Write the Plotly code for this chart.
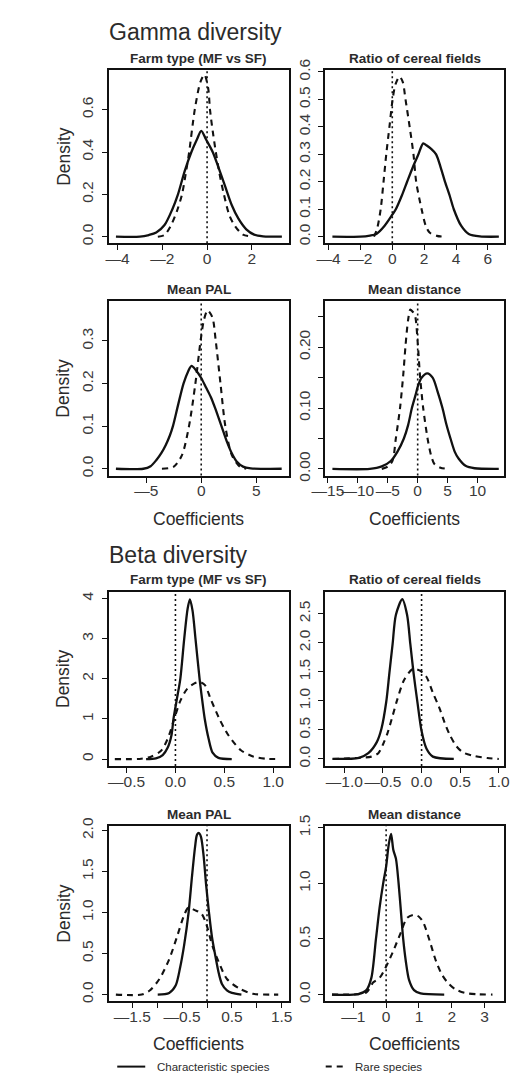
import plotly.graph_objects as go

# ---------------- posterior densities of the coefficients ----------------
# Gamma diversity
g_farm_char_x = [-4.07, -3.0, -2.6, -2.27, -1.9, -1.55, -1.3, -1.0, -0.7, -0.45, -0.26, -0.05, 0.25, 0.5, 0.8, 1.1, 1.4, 1.75, 2.1, 2.5, 3.34]
g_farm_char_y = [0, 0, 0.008, 0.02, 0.055, 0.13, 0.2, 0.31, 0.4, 0.46, 0.50, 0.46, 0.40, 0.33, 0.24, 0.15, 0.085, 0.035, 0.01, 0.002, 0]
g_farm_rare_x = [-2.2, -1.9, -1.63, -1.35, -1.12, -0.95, -0.8, -0.55, -0.3, -0.12, 0.05, 0.13, 0.25, 0.39, 0.55, 0.75, 1.0, 1.25, 1.6, 2.04]
g_farm_rare_y = [0, 0.008, 0.05, 0.12, 0.2, 0.3, 0.4, 0.6, 0.73, 0.766, 0.7, 0.6, 0.5, 0.4, 0.3, 0.2, 0.1, 0.05, 0.01, 0]

g_cereal_char_x = [-3.76, -2.0, -1.4, -1.0, -0.48, 0.0, 0.22, 0.6, 0.93, 1.3, 1.64, 1.94, 2.14, 2.44, 2.75, 3.05, 3.31, 3.6, 3.86, 4.32, 4.8, 5.5, 6.69]
g_cereal_char_y = [0, 0, 0.004, 0.01, 0.04, 0.08, 0.1, 0.15, 0.2, 0.255, 0.3, 0.34, 0.333, 0.32, 0.30, 0.25, 0.2, 0.15, 0.1, 0.04, 0.01, 0.001, 0]
g_cereal_rare_x = [-1.15, -0.95, -0.73, -0.55, -0.38, -0.18, 0.02, 0.2, 0.45, 0.65, 0.83, 1.09, 1.33, 1.5, 1.84, 2.1, 2.34, 2.8, 3.25]
g_cereal_rare_y = [0, 0.03, 0.1, 0.2, 0.3, 0.4, 0.5, 0.555, 0.583, 0.565, 0.5, 0.4, 0.3, 0.2, 0.1, 0.04, 0.015, 0.003, 0]

g_pal_char_x = [-7.75, -5.26, -4.6, -4.09, -3.6, -3.22, -2.85, -2.57, -2.1, -1.61, -1.2, -0.88, -0.5, 0.0, 0.45, 0.88, 1.3, 1.84, 2.34, 2.8, 3.22, 3.8, 4.5, 7.31]
g_pal_char_y = [0, 0, 0.006, 0.02, 0.038, 0.056, 0.078, 0.1, 0.15, 0.2, 0.228, 0.2415, 0.232, 0.213, 0.19, 0.168, 0.14, 0.1, 0.063, 0.035, 0.017, 0.005, 0.001, 0]
g_pal_rare_x = [-3.57, -2.49, -1.75, -1.11, -0.53, -0.06, 0.25, 0.58, 1.02, 1.32, 1.75, 2.19, 2.78, 3.51, 4.09]
g_pal_rare_y = [0, 0.005, 0.032, 0.1, 0.2, 0.3, 0.35, 0.372, 0.355, 0.3, 0.2, 0.1, 0.032, 0.005, 0]

g_dist_char_x = [-14.25, -8.0, -6.0, -4.5, -3.4, -2.31, -1.6, -0.97, -0.4, 0.11, 0.65, 1.6, 2.5, 3.3, 4.14, 4.8, 5.48, 6.2, 6.83, 8.0, 9.5, 13.55]
g_dist_char_y = [0, 0, 0.004, 0.013, 0.028, 0.05, 0.072, 0.1, 0.12, 0.138, 0.15, 0.157, 0.15, 0.128, 0.1, 0.073, 0.05, 0.028, 0.017, 0.005, 0.001, 0]
g_dist_rare_x = [-6.0, -4.95, -4.2, -3.65, -2.95, -2.42, -2.03, -1.6, -1.23, -0.8, -0.42, 0.0, 0.38, 0.92, 1.72, 2.3, 2.8, 3.8, 4.95]
g_dist_rare_y = [0, 0.004, 0.0135, 0.05, 0.1, 0.154, 0.203, 0.245, 0.262, 0.258, 0.251, 0.208, 0.154, 0.1, 0.046, 0.02, 0.008, 0.002, 0]

# Beta diversity
b_farm_char_x = [-0.30, -0.2, -0.13, -0.08, -0.04, -0.02, 0.015, 0.05, 0.09, 0.125, 0.148, 0.175, 0.205, 0.247, 0.275, 0.30, 0.34, 0.38, 0.44, 0.576]
b_farm_char_y = [0, 0.02, 0.1, 0.28, 0.6, 1.0, 1.5, 2.0, 3.0, 3.75, 3.98, 3.7, 3.0, 2.0, 1.45, 1.0, 0.5, 0.16, 0.03, 0]
b_farm_rare_x = [-0.62, -0.35, -0.25, -0.15, -0.08, -0.016, 0.05, 0.12, 0.19, 0.247, 0.3, 0.36, 0.45, 0.54, 0.67, 0.8, 0.92, 1.07]
b_farm_rare_y = [0, 0.01, 0.06, 0.2, 0.5, 0.97, 1.45, 1.75, 1.88, 1.92, 1.85, 1.5, 1.0, 0.6, 0.22, 0.06, 0.01, 0]

b_cereal_char_x = [-1.154, -0.81, -0.69, -0.58, -0.52, -0.458, -0.417, -0.375, -0.333, -0.25, -0.1875, -0.146, -0.104, -0.054, 0.0, 0.0625, 0.146, 0.417]
b_cereal_char_y = [0, 0.02, 0.1, 0.29, 0.52, 0.98, 1.48, 1.98, 2.48, 2.75, 2.48, 1.98, 1.48, 0.98, 0.48, 0.18, 0.04, 0]
b_cereal_rare_x = [-1.15, -0.8, -0.65, -0.56, -0.5, -0.44, -0.38, -0.32, -0.23, -0.125, -0.08, -0.02, 0.06, 0.146, 0.23, 0.3, 0.36, 0.45, 0.54, 0.69, 0.85, 1.0]
b_cereal_rare_y = [0, 0.02, 0.04, 0.1, 0.25, 0.45, 0.72, 1.0, 1.35, 1.54, 1.55, 1.52, 1.42, 1.14, 0.88, 0.62, 0.43, 0.22, 0.11, 0.05, 0.015, 0]

b_pal_char_x = [-0.99, -0.76, -0.63, -0.54, -0.46, -0.37, -0.3, -0.24, -0.2, -0.16, -0.12, -0.07, -0.02, 0.04, 0.1, 0.174, 0.24, 0.3, 0.4, 0.5, 0.69]
b_pal_char_y = [0, 0.02, 0.11, 0.33, 0.6, 1.0, 1.45, 1.8, 1.95, 1.97, 1.92, 1.7, 1.35, 1.0, 0.7, 0.45, 0.25, 0.13, 0.05, 0.02, 0]
b_pal_rare_x = [-1.83, -1.31, -1.15, -0.956, -0.76, -0.6, -0.47, -0.375, -0.245, -0.116, -0.02, 0.11, 0.24, 0.4, 0.66, 0.92, 1.43]
b_pal_rare_y = [0, 0, 0.05, 0.19, 0.43, 0.71, 0.95, 1.06, 1.03, 0.99, 0.87, 0.59, 0.39, 0.19, 0.07, 0.01, 0]

b_dist_char_x = [-1.65, -0.85, -0.6, -0.45, -0.31, -0.2, -0.09, 0.0, 0.08, 0.15, 0.22, 0.3, 0.38, 0.45, 0.52, 0.6, 0.7, 0.85, 1.05, 1.77]
b_dist_char_y = [0, 0.005, 0.04, 0.15, 0.5, 0.78, 1.0, 1.15, 1.35, 1.445, 1.3, 1.22, 1.0, 0.75, 0.5, 0.3, 0.13, 0.04, 0.01, 0]
b_dist_rare_x = [-1.65, -0.9, -0.6, -0.39, -0.2, -0.04, 0.2, 0.45, 0.64, 0.84, 1.0, 1.13, 1.33, 1.52, 1.7, 1.87, 2.1, 2.4, 2.8, 3.24]
b_dist_rare_y = [0, 0.003, 0.02, 0.11, 0.15, 0.23, 0.38, 0.56, 0.69, 0.717, 0.7, 0.65, 0.48, 0.3, 0.18, 0.11, 0.05, 0.015, 0.003, 0]

# ---------------- axis ticks ----------------
D = "\u2014"  # long minus as typeset on the axes
g_farm_xticks = [-4, -2, 0, 2]
g_farm_xlabels = [D + "4", D + "2", "0", "2"]
g_farm_yticks = [0, 0.2, 0.4, 0.6]
g_farm_ylabels = ["0.0", "0.2", "0.4", "0.6"]

g_cereal_xticks = [-4, -2, 0, 2, 4, 6]
g_cereal_xlabels = [D + "4", D + "2", "0", "2", "4", "6"]
g_cereal_yticks = [0, 0.1, 0.2, 0.3, 0.4, 0.5, 0.6]
g_cereal_ylabels = ["0.0", "0.1", "0.2", "0.3", "0.4", "0.5", "0.6"]

g_pal_xticks = [-5, 0, 5]
g_pal_xlabels = [D + "5", "0", "5"]
g_pal_yticks = [0, 0.1, 0.2, 0.3]
g_pal_ylabels = ["0.0", "0.1", "0.2", "0.3"]

g_dist_xticks = [-15, -10, -5, 0, 5, 10]
g_dist_xlabels = [D + "15", D + "10", D + "5", "0", "5", "10"]
g_dist_yticks = [0, 0.05, 0.10, 0.15, 0.20, 0.25]
g_dist_ylabels = ["0.00", "", "0.10", "", "0.20", ""]

b_farm_xticks = [-0.5, 0.0, 0.5, 1.0]
b_farm_xlabels = [D + "0.5", "0.0", "0.5", "1.0"]
b_farm_yticks = [0, 1, 2, 3, 4]
b_farm_ylabels = ["0", "1", "2", "3", "4"]

b_cereal_xticks = [-1.0, -0.5, 0.0, 0.5, 1.0]
b_cereal_xlabels = [D + "1.0", D + "0.5", "0.0", "0.5", "1.0"]
b_cereal_yticks = [0, 0.5, 1.0, 1.5, 2.0, 2.5]
b_cereal_ylabels = ["0.0", "0.5", "1.0", "1.5", "2.0", "2.5"]

b_pal_xticks = [-1.5, -1.0, -0.5, 0.0, 0.5, 1.0, 1.5]
b_pal_xlabels = [D + "1.5", "", D + "0.5", "", "0.5", "", "1.5"]
b_pal_yticks = [0, 0.5, 1.0, 1.5, 2.0]
b_pal_ylabels = ["0.0", "0.5", "1.0", "1.5", "2.0"]

b_dist_xticks = [-1, 0, 1, 2, 3]
b_dist_xlabels = [D + "1", "0", "1", "2", "3"]
b_dist_yticks = [0, 0.5, 1.0, 1.5]
b_dist_ylabels = ["0.0", "0.5", "1.0", "1.5"]

panel_titles = ["Farm type (MF vs SF)", "Ratio of cereal fields", "Mean PAL", "Mean distance"]
section_titles = ["Gamma diversity", "Beta diversity"]
series_names = ["Characteristic species", "Rare species"]

# ---------------- page geometry (pixels) ----------------
W, H = 517, 1079
FONT = "Liberation Sans, Arial, Helvetica, sans-serif"
INK = "#111111"
TXT = "#2b2b2b"


def fx(px):
    return px / W


def fy(py):
    return 1 - py / H


col_px = [(99, 286), (323, 509)]
row_px = [(60, 236), (295, 472), (590, 767), (828, 1006)]

panels = [
    dict(cx=g_farm_char_x, cy=g_farm_char_y, rx=g_farm_rare_x, ry=g_farm_rare_y,
         xt=g_farm_xticks, xl=g_farm_xlabels, yt=g_farm_yticks, yl=g_farm_ylabels,
         xr=[-4.40, 3.66], yr=[-0.031, 0.787]),
    dict(cx=g_cereal_char_x, cy=g_cereal_char_y, rx=g_cereal_rare_x, ry=g_cereal_rare_y,
         xt=g_cereal_xticks, xl=g_cereal_xlabels, yt=g_cereal_yticks, yl=g_cereal_ylabels,
         xr=[-4.24, 7.03], yr=[-0.024, 0.607]),
    dict(cx=g_pal_char_x, cy=g_pal_char_y, rx=g_pal_rare_x, ry=g_pal_rare_y,
         xt=g_pal_xticks, xl=g_pal_xlabels, yt=g_pal_yticks, yl=g_pal_ylabels,
         xr=[-8.42, 7.98], yr=[-0.016, 0.393]),
    dict(cx=g_dist_char_x, cy=g_dist_char_y, rx=g_dist_rare_x, ry=g_dist_rare_y,
         xt=g_dist_xticks, xl=g_dist_xlabels, yt=g_dist_yticks, yl=g_dist_ylabels,
         xr=[-15.53, 14.47], yr=[-0.011, 0.2755]),
    dict(cx=b_farm_char_x, cy=b_farm_char_y, rx=b_farm_rare_x, ry=b_farm_rare_y,
         xt=b_farm_xticks, xl=b_farm_xlabels, yt=b_farm_yticks, yl=b_farm_ylabels,
         xr=[-0.684, 1.162], yr=[-0.17, 4.17]),
    dict(cx=b_cereal_char_x, cy=b_cereal_char_y, rx=b_cereal_rare_x, ry=b_cereal_rare_y,
         xt=b_cereal_xticks, xl=b_cereal_xlabels, yt=b_cereal_yticks, yl=b_cereal_ylabels,
         xr=[-1.254, 1.071], yr=[-0.12, 2.88]),
    dict(cx=b_pal_char_x, cy=b_pal_char_y, rx=b_pal_rare_x, ry=b_pal_rare_y,
         xt=b_pal_xticks, xl=b_pal_xlabels, yt=b_pal_yticks, yl=b_pal_ylabels,
         xr=[-1.977, 1.647], yr=[-0.08, 2.056]),
    dict(cx=b_dist_char_x, cy=b_dist_char_y, rx=b_dist_rare_x, ry=b_dist_rare_y,
         xt=b_dist_xticks, xl=b_dist_xlabels, yt=b_dist_yticks, yl=b_dist_ylabels,
         xr=[-1.87, 3.6], yr=[-0.059, 1.516]),
]

fig = go.Figure()
layout_axes = {}
annotations = []
shapes = []

for i, p in enumerate(panels, start=1):
    row, col = (i - 1) // 2, (i - 1) % 2
    x0p, x1p = col_px[col]
    y0p, y1p = row_px[row]
    xa = "x" if i == 1 else f"x{i}"
    ya = "y" if i == 1 else f"y{i}"

    fig.add_trace(go.Scatter(
        x=p["cx"], y=p["cy"], xaxis=xa, yaxis=ya, mode="lines", name=series_names[0],
        line=dict(color=INK, width=2.3, shape="spline", smoothing=0.8),
        showlegend=False, hoverinfo="skip"))
    fig.add_trace(go.Scatter(
        x=p["rx"], y=p["ry"], xaxis=xa, yaxis=ya, mode="lines", name=series_names[1],
        line=dict(color=INK, width=2.1, dash="6px,5px", shape="spline", smoothing=0.8),
        showlegend=False, hoverinfo="skip"))

    # reference line at zero effect
    shapes.append(dict(type="line", xref=xa, yref=f"{ya} domain", x0=0, x1=0, y0=0, y1=1,
                       line=dict(color=INK, width=1.6, dash="2px,3px"), layer="above"))

    common = dict(showline=True, linecolor=INK, linewidth=2, mirror=True,
                  ticks="outside", ticklen=5, tickwidth=1.4, tickcolor=INK,
                  showgrid=False, zeroline=False, fixedrange=True,
                  tickfont=dict(family=FONT, size=15.5, color="#3a3a3a"))
    layout_axes[f"xaxis{'' if i == 1 else i}"] = dict(
        common, domain=[fx(x0p), fx(x1p)], anchor=ya, range=p["xr"], tickangle=0,
        tickmode="array", tickvals=p["xt"], ticktext=p["xl"], ticklabelstandoff=-5)
    layout_axes[f"yaxis{'' if i == 1 else i}"] = dict(
        common, domain=[fy(y1p), fy(y0p)], anchor=xa, range=p["yr"],
        tickmode="array", tickvals=p["yt"], ticktext=p["yl"], tickangle=-90,
        ticklabelstandoff=2)

    # panel title
    annotations.append(dict(text=f"<b>{panel_titles[(i - 1) % 4]}</b>", xref="paper", yref="paper",
                            x=fx((x0p + x1p) / 2), y=fy(y0p - 12), xanchor="center", yanchor="middle",
                            showarrow=False, font=dict(family=FONT, size=13.5, color=TXT)))
    if col == 0:
        annotations.append(dict(text="Density", xref="paper", yref="paper", textangle=-90,
                                x=fx(52), y=fy((y0p + y1p) / 2), xanchor="center", yanchor="middle",
                                showarrow=False, font=dict(family=FONT, size=17.5, color=TXT)))
    if row in (1, 3):
        annotations.append(dict(text="Coefficients", xref="paper", yref="paper",
                                x=fx((x0p + x1p) / 2), y=fy(y1p + 44), xanchor="center", yanchor="middle",
                                showarrow=False, font=dict(family=FONT, size=17.5, color=TXT)))

# section headings
for text, ypx in zip(section_titles, [21, 553]):
    annotations.append(dict(text=text, xref="paper", yref="paper", x=fx(97), y=fy(ypx),
                            xanchor="left", yanchor="middle", showarrow=False,
                            font=dict(family=FONT, size=23, color=TXT)))

# key at the foot of the page
key_y = 1072.5
shapes.append(dict(type="line", xref="paper", yref="paper", x0=fx(108), x1=fx(137), y0=fy(key_y), y1=fy(key_y),
                   line=dict(color=INK, width=2)))
shapes.append(dict(type="line", xref="paper", yref="paper", x0=fx(324), x1=fx(343), y0=fy(key_y), y1=fy(key_y),
                   line=dict(color=INK, width=2, dash="6px,5px")))
annotations.append(dict(text=series_names[0], xref="paper", yref="paper", x=fx(147), y=fy(key_y),
                        xanchor="left", yanchor="middle", showarrow=False,
                        font=dict(family=FONT, size=11.5, color=TXT)))
annotations.append(dict(text=series_names[1], xref="paper", yref="paper", x=fx(352), y=fy(key_y),
                        xanchor="left", yanchor="middle", showarrow=False,
                        font=dict(family=FONT, size=11.5, color=TXT)))

fig.update_layout(
    width=W, height=H, margin=dict(l=0, r=0, t=0, b=0),
    paper_bgcolor="white", plot_bgcolor="white",
    showlegend=False, annotations=annotations, shapes=shapes,
    font=dict(family=FONT, color=TXT),
    **layout_axes,
)

# the page should hold exactly the figure, without the default body margin
fig.write_html("out.html", post_script="document.body.style.margin='0';document.body.style.overflow='hidden';")
